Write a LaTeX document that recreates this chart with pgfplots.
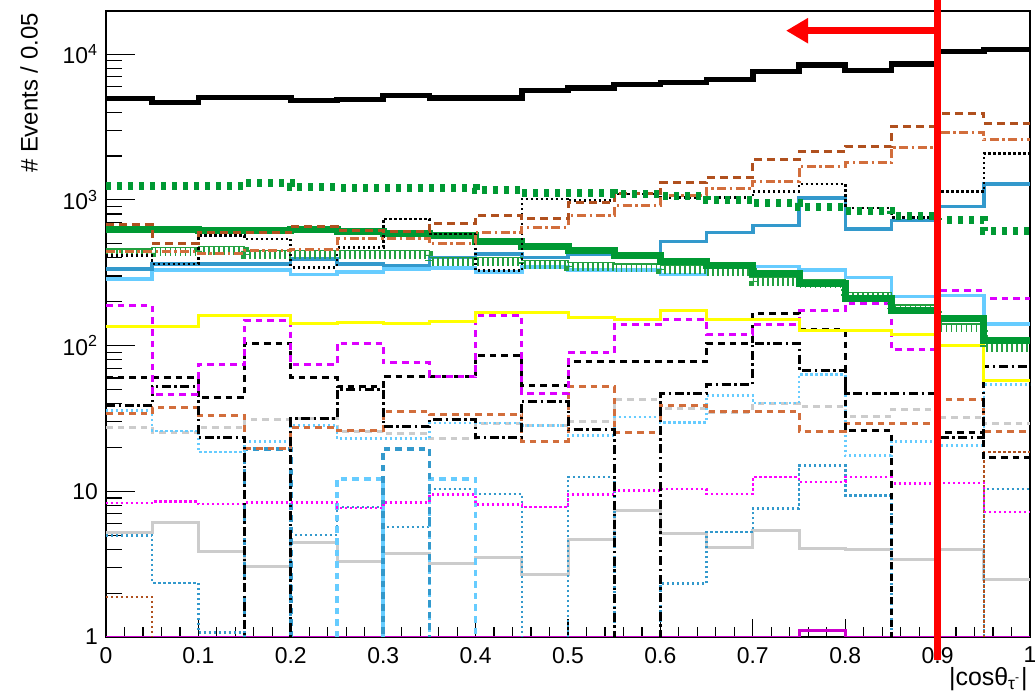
\documentclass[border=0pt]{standalone}
\usepackage{fontspec}
\setmainfont{Liberation Sans}
\usepackage{pgfplots}
\pgfplotsset{compat=1.18}
\usepackage{pgfplotstable}
\usetikzlibrary{arrows.meta}

\definecolor{cBrown}{HTML}{B0501E}
\definecolor{cOrange}{HTML}{D26E3C}
\definecolor{cGreen}{HTML}{009933}
\definecolor{cGreenL}{HTML}{22A040}
\definecolor{cSteel}{HTML}{3399CC}
\definecolor{cLight}{HTML}{66CCFF}
\definecolor{cYellow}{HTML}{FFFF00}
\definecolor{cViolet}{HTML}{DD00FF}
\definecolor{cMagenta}{HTML}{FF00FF}
\definecolor{cPurple}{HTML}{CC00CC}
\definecolor{cGray}{HTML}{CCCCCC}
\definecolor{cRed}{HTML}{FF0000}

\pgfplotstableread{
x    tot   brd  ordd bkdot gdash gsol ghat sbl  lbl yel mgd bkd  bkdd ord  lbdot gyd  mgdot gys  sbdot brdot lbd  sbd  mgs
0    4950  677  445  415   1248  623  461  336  287 135 188 60   38.8 34   35.9  27.6 8.3   5.25 4.98  1.88  0.01 0.01 1
0.05 4650  504  445  364   1248  623  471  364  331 135 46  60   52   37.5 25.9  25.5 8.5   6.15 2.35  0.01  0.01 0.01 1
0.1  5030  597  430  569   1248  615  481  364  331 161 74  44   23.5 33   18.6  27.4 8.2   3.87 1.07  0.01  0.01 0.01 1
0.15 5030  597  450  540   1300  615  449  364  331 161 149 104  0.01 19.6 22    31.1 8.4   3.05 0.01  0.01  0.01 19.6 1
0.2  4800  659  454  345   1220  623  449  394  307 142 74  60   31.5 27.6 28.3  31.5 8.4   4.48 5     0.01  0.01 0.01 1
0.25 4875  616  540  473   1215  609  449  364  319 145 104 52   50   26.2 23    25.9 7.7   3.32 7.8   0.01  12.2 0.01 1
0.3  5190  606  540  741   1209  585  449  354  336 142 76  61   27.9 35.5 23    24.8 8.4   3.73 5.7   0.01  0.01 19.6 1
0.35 5020  688  499  585   1209  569  404  404  340 147 61  61   31   33.7 29.4  23   9.5   3.19 10.4  0.01  12.2 0.01 1
0.4  5020  780  600  327   1170  520  404  426  319 169 161 86   23.5 33.7 29.4  29.4 8.1   3.54 9.6   0.01  0.01 0.01 1
0.45 5620  744  649  1016  1110  481  383  404  347 169 47  53   41.6 22   28.3  28.3 7.8   2.69 0.01  0.01  0.01 0.01 1
0.5  5860  963  780  989   1110  449  373  420  331 157 89  78   26.4 52.4 24.2  30.3 9.5   4.66 12.5  0.01  0.01 0.01 1
0.55 6180  1110 914  1100  1099  415  364  415  331 150 140 78   0.01 25.2 32.3  42.4 10.1  7.4  0.01  0.01  0.01 0.01 1
0.6  6410  1310 1070 1042  1070  380  354  520  307 174 150 78   47   38.8 29.8  36.9 10.4  5.12 2.32  0.01  0.01 0.01 1
0.65 6690  1429 1200 1042  1000  354  345  600  364 150 119 104  54   35.5 45.5  35   9.6   4.1  5.25  0.01  0.01 0.01 1
0.7  7620  1880 1342 1146  948   311  294  667  350 150 139 167  104  35.5 40.3  39.9 12.5  5.4  7.6   0.01  0.01 0.01 1
0.75 8430  2154 1700 1287  890   265  282  1032 330 126 174 128  68   25.9 63.4  38.4 11.6  4.04 15    0.01  0.01 0.01 1.11
0.8  7710  2331 1794 881   845   209  232  632  293 126 195 26   47   29.4 17.6  32.8 12.5  3.98 9.4   0.01  0.01 0.01 1
0.85 8570  3183 2295 760   780   174  190  721  217 120 94  0.01 47   29   22    36.3 11.3  3.4  0.01  0.01  0.01 0.01 1
0.9  10450 3926 2880 1146  729   153  141  904  221 100 239 25.5 23.5 42.4 20.6  32   11.4  3.98 0.01  0.01  0.01 0.01 1
0.95 10740 3353 2580 2087  616   108  103  1287 141 58  209 17   72   25.9 54    29.4 7.2   2.48 10.4  18.6  0.01 0.01 1
1    10740 3353 2580 2087  616   108  103  1287 141 58  209 17   72   25.9 54    29.4 7.2   2.48 10.4  18.6  0.01 0.01 1
}\hist

\tikzset{
  hDot/.style={dash pattern=on 1.1bp off 1.4bp},
  hDashL/.style={dash pattern=on 4bp off 2.5bp},
  hDashB/.style={dash pattern=on 3.3bp off 2.5bp},
  hDashDot/.style={dash pattern=on 4.5bp off 1.8bp on 1.2bp off 1.8bp},
}

\begin{document}
\begin{tikzpicture}
\useasboundingbox (-53bp,-29bp) rectangle (464.5bp,318.5bp);
% x ticks
\begin{axis}[at={(0,0)}, anchor=south west, scale only axis,
  width=462bp, height=313bp, xmin=0, xmax=1, ymode=log, ymin=1, ymax=19800,
  axis line style={line width=0.8bp, black}, tick align=inside,
  tick style={black, line width=0.6bp},
  ytick=\empty, xtick pos=left,
  xtick={0,0.1,0.2,0.3,0.4,0.5,0.6,0.7,0.8,0.9,1},
  xticklabels={0,0.1,0.2,0.3,0.4,0.5,0.6,0.7,0.8,0.9,1},
  minor x tick num=4, major tick length=9bp, minor tick length=5bp,
  xticklabel style={font=\fontsize{11.5}{13}\selectfont, yshift=-1.5bp}]
\end{axis}
% data and y ticks
\begin{axis}[at={(0,0)}, anchor=south west, scale only axis,
  width=462bp, height=313bp, xmin=0, xmax=1, ymode=log, ymin=1, ymax=19800,
  axis line style={line width=0.8bp, black}, tick align=inside,
  tick style={black, line width=0.6bp},
  xtick=\empty, ytick pos=left,
  ytick={1,10,100,1000,10000},
  yticklabels={1,10,10\textsuperscript{2},10\textsuperscript{3},10\textsuperscript{4}},
  major tick length=14.5bp, minor tick length=8bp,
  yticklabel style={font=\fontsize{11.5}{13}\selectfont, xshift=-0.5bp},
  every axis plot/.append style={const plot}]
\addplot[cPurple, line width=1.5bp] table[x=x,y=mgs]{\hist};
\addplot[cGray, line width=1.5bp] table[x=x,y=gys]{\hist};
\addplot[cSteel, line width=1.3bp, hDot] table[x=x,y=sbdot]{\hist};
\addplot[cBrown, line width=1.3bp, hDot] table[x=x,y=brdot]{\hist};
\addplot[cLight, line width=1.8bp, hDashB] table[x=x,y=lbd]{\hist};
\addplot[cSteel, line width=1.8bp, hDashB] table[x=x,y=sbd]{\hist};
\addplot[cMagenta, line width=1.3bp, hDot] table[x=x,y=mgdot]{\hist};
\addplot[cGray, line width=1.5bp, hDashB] table[x=x,y=gyd]{\hist};
\addplot[cLight, line width=1.3bp, hDot] table[x=x,y=lbdot]{\hist};
\addplot[cOrange, line width=1.5bp, hDashB] table[x=x,y=ord]{\hist};
\addplot[black, line width=1.5bp, hDashDot] table[x=x,y=bkdd]{\hist};
\addplot[black, line width=1.5bp, hDashB] table[x=x,y=bkd]{\hist};
\addplot[cViolet, line width=1.5bp, hDashB] table[x=x,y=mgd]{\hist};
\addplot[cYellow, line width=1.5bp] table[x=x,y=yel]{\hist};
\addplot[cLight, line width=1.7bp] table[x=x,y=lbl]{\hist};
\addplot[cSteel, line width=1.7bp] table[x=x,y=sbl]{\hist};
\addplot[cGreenL, line width=0.7bp] table[x=x,y=ghat]{\hist};
\addplot[cGreenL, line width=4bp, dash pattern=on 0.9bp off 1.6bp, yshift=-2.2bp] table[x=x,y=ghat]{\hist};
\addplot[cGreen, line width=3.5bp] table[x=x,y=gsol]{\hist};
\addplot[black, line width=1.3bp, hDot] table[x=x,y=bkdot]{\hist};
\addplot[cOrange, line width=1.5bp, hDashDot] table[x=x,y=ordd]{\hist};
\addplot[cBrown, line width=1.5bp, hDashL] table[x=x,y=brd]{\hist};
\addplot[cGreen, line width=4bp, dash pattern=on 2.5bp off 3bp] table[x=x,y=gdash]{\hist};
\addplot[black, line width=2.8bp] table[x=x,y=tot]{\hist};
\coordinate (cb) at (axis cs:0.9,1);
\coordinate (ct) at (axis cs:0.9,19800);
\coordinate (as) at (axis cs:0.9,14500);
\coordinate (ah) at (axis cs:0.736,14500);
\coordinate (ylab) at (rel axis cs:0,1);
\coordinate (xlab) at (rel axis cs:1,0);
\end{axis}
\draw[cRed, line width=3.6bp] ([yshift=-11.5bp]cb) -- ([yshift=6bp]ct);
\draw[cRed, line width=3.5bp, -{Triangle[length=11bp,width=12bp]}] (as) -- (ah);
\node[rotate=90, anchor=east, inner sep=0pt, font=\fontsize{12}{14}\selectfont]
  at ([xshift=-38.5bp, yshift=-1bp]ylab) {\# Events / 0.05};
\node[anchor=north east, inner sep=0pt, font=\fontsize{12.5}{14}\selectfont]
  at ([yshift=-15bp, xshift=-1bp]xlab) {|cosθ\textsubscript{τ\textsuperscript{-}}|};
\end{tikzpicture}
\end{document}
